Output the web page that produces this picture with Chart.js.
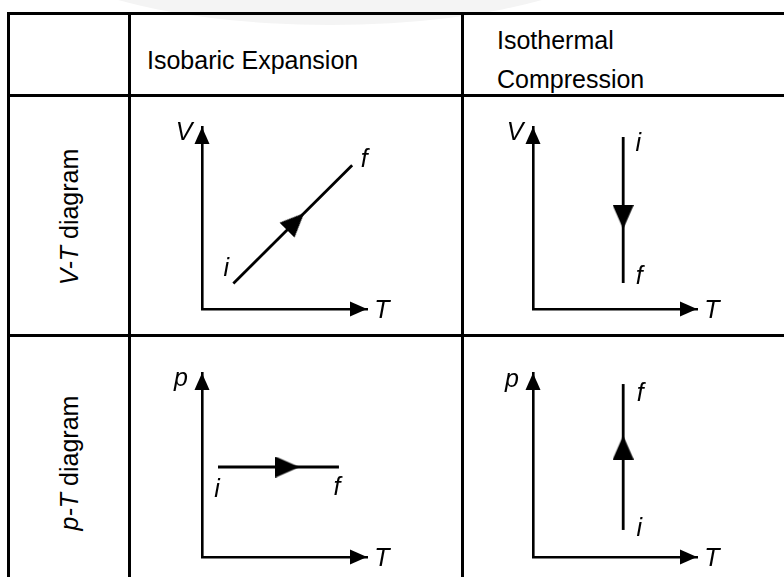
<!DOCTYPE html>
<html lang="en">
<head>
<meta charset="UTF-8">
<title>Isobaric expansion / isothermal compression</title>
<script src="https://cdn.jsdelivr.net/npm/chart.js"></script>
<style>
  html, body { margin: 0; padding: 0; background: #fff; }
  body { width: 784px; height: 577px; position: relative; overflow: hidden;
         font-family: "Liberation Sans", Arial, sans-serif; color: #000; }
  .wm { position: absolute; left: 20px; top: -160px; width: 620px; height: 185px;
        border-radius: 50%; background: #f4f4f4; }
  .hl { position: absolute; height: 3px; background: #000; }
  .vl { position: absolute; width: 3px; background: #000; }
  .head { position: absolute; font-size: 25px; line-height: 25px; white-space: nowrap; }
  .side { position: absolute; font-size: 25px; line-height: 25px; white-space: nowrap;
          transform: translate(-50%, -50%) rotate(-90deg); }
  canvas { position: absolute; }
</style>
</head>
<body>
<div class="wm"></div>

<!-- table rules -->
<div class="hl" style="left:7px; width:777px; top:12px"></div>
<div class="hl" style="left:7px; width:777px; top:94px"></div>
<div class="hl" style="left:7px; width:777px; top:334px"></div>
<div class="vl" style="left:7px; top:12px; height:565px"></div>
<div class="vl" style="left:128px; top:12px; height:565px"></div>
<div class="vl" style="left:461px; top:12px; height:565px"></div>

<div class="head" id="h1" style="left:147px; top:48px"></div>
<div class="head" id="h2a" style="left:497px; top:28px"></div>
<div class="head" id="h2b" style="left:497px; top:67px"></div>
<div class="side" id="r1" style="left:69px; top:217px"></div>
<div class="side" id="r2" style="left:69px; top:463px"></div>

<canvas id="c1"></canvas>
<canvas id="c2"></canvas>
<canvas id="c3"></canvas>
<canvas id="c4"></canvas>

<script>
// table text
const columnTitles = ['Isobaric Expansion', ['Isothermal', 'Compression']];
const rowTitles = [['V-T', ' diagram'], ['p-T', ' diagram']];
const pointNames = ['i', 'f'];

// process end points [i, f] and arrow position, axes run 0..10 (arbitrary units)
const vtIsobaricT = [1.9, 9.1];
const vtIsobaricV = [1.4, 7.9];
const vtIsobaricArrow = [5.67, 4.8];

const vtIsothermalT = [5.5, 5.5];
const vtIsothermalV = [9.45, 1.43];
const vtIsothermalArrow = [5.5, 5.05];

const ptIsobaricT = [0.97, 8.3];
const ptIsobaricP = [4.89, 4.89];
const ptIsobaricArrow = [5.18, 4.89];

const ptIsothermalT = [5.5, 5.5];
const ptIsothermalP = [1.47, 9.4];
const ptIsothermalArrow = [5.5, 5.95];

document.getElementById('h1').textContent = columnTitles[0];
document.getElementById('h2a').textContent = columnTitles[1][0];
document.getElementById('h2b').textContent = columnTitles[1][1];
rowTitles.forEach((r, k) => {
  document.getElementById('r' + (k + 1)).innerHTML = '<i>' + r[0] + '</i>' + r[1];
});

// filled triangle used as the direction marker on each process line
function arrowImage(len, wid) {
  const c = document.createElement('canvas');
  c.width = len; c.height = wid;
  const g = c.getContext('2d');
  g.fillStyle = '#000';
  g.beginPath();
  g.moveTo(0, 0); g.lineTo(len, wid / 2); g.lineTo(0, wid);
  g.closePath(); g.fill();
  return c;
}
const arrowImg = arrowImage(24, 21);

function axisHead(ctx, x, y, dx, dy) {
  const L = 17, W = 7.5;
  ctx.beginPath();
  ctx.moveTo(x, y);
  ctx.lineTo(x - dx * L - dy * W, y - dy * L + dx * W);
  ctx.lineTo(x - dx * L + dy * W, y - dy * L - dx * W);
  ctx.closePath();
  ctx.fill();
}

// arrow heads on the axes + the V/p, T, i, f letters
const decor = {
  id: 'decor',
  afterDraw(chart, args, opts) {
    const ctx = chart.ctx, a = chart.chartArea;
    const sx = chart.scales.x, sy = chart.scales.y;
    ctx.save();
    ctx.fillStyle = '#000';
    axisHead(ctx, a.left, a.top, 0, -1);
    axisHead(ctx, a.right, a.bottom, 1, 0);
    ctx.font = 'italic 25px "Liberation Sans", Arial, sans-serif';
    ctx.textAlign = 'center';
    ctx.textBaseline = 'alphabetic';
    ctx.fillText(opts.yTitle, a.left + opts.yTitleAt[0], a.top + opts.yTitleAt[1]);
    ctx.fillText('T', a.right + opts.xTitleAt[0], a.bottom + opts.xTitleAt[1]);
    chart.data.datasets[0].data.forEach((pt, k) => {
      const off = opts.nameAt[k];
      ctx.fillText(pointNames[k], sx.getPixelForValue(pt.x) + off[0], sy.getPixelForValue(pt.y) + off[1]);
    });
    ctx.restore();
  }
};

function arrowAngle(c) {
  const ch = c.chart, d = ch.data.datasets[0].data;
  const sx = ch.scales.x, sy = ch.scales.y;
  const dx = sx.getPixelForValue(d[1].x) - sx.getPixelForValue(d[0].x);
  const dy = sy.getPixelForValue(d[1].y) - sy.getPixelForValue(d[0].y);
  return Math.atan2(dy, dx) * 180 / Math.PI;
}

const axisOpts = () => ({
  type: 'linear', min: 0, max: 10,
  ticks: { display: false },
  grid: { display: false, drawTicks: false },
  border: { display: true, color: '#000', width: 2.6 }
});

const pad = { left: 70, top: 30, right: 60, bottom: 18 };

function makePanel(id, origin, tip, xs, ys, arrow, yTitle, yTitleAt, nameAt) {
  const cv = document.getElementById(id);
  cv.width = tip[0] - origin[0] + pad.left + pad.right;
  cv.height = origin[1] - tip[1] + pad.top + pad.bottom;
  cv.style.left = (origin[0] - pad.left) + 'px';
  cv.style.top = (tip[1] - pad.top) + 'px';
  return new Chart(cv, {
    type: 'scatter',
    data: {
      datasets: [{
        data: xs.map((x, k) => ({ x: x, y: ys[k] })),
        showLine: true,
        borderColor: '#000',
        borderWidth: 2.8,
        pointRadius: 0,
        clip: false
      }, {
        data: [{ x: arrow[0], y: arrow[1] }],
        showLine: false,
        pointStyle: arrowImg,
        pointRadius: 10,
        pointRotation: arrowAngle,
        clip: false
      }]
    },
    options: {
      responsive: false,
      animation: false,
      events: [],
      layout: { padding: pad, autoPadding: false },
      plugins: {
        legend: { display: false },
        tooltip: { enabled: false },
        decor: { yTitle: yTitle, yTitleAt: yTitleAt, xTitleAt: [15, 9], nameAt: nameAt }
      },
      scales: { x: axisOpts(), y: axisOpts() }
    },
    plugins: [decor]
  });
}

makePanel('c1', [202, 309], [367, 127], vtIsobaricT, vtIsobaricV, vtIsobaricArrow,
  'V', [-18, 13], [[-7, -8], [12, 2]]);
makePanel('c2', [533, 309], [697, 127], vtIsothermalT, vtIsothermalV, vtIsothermalArrow,
  'V', [-18, 13], [[15, 14], [16, 1]]);
makePanel('c3', [202, 557], [367, 373], ptIsobaricT, ptIsobaricP, ptIsobaricArrow,
  'p', [-21, 13], [[-1, 30], [-2, 28]]);
makePanel('c4', [533, 557], [697, 373], ptIsothermalT, ptIsothermalP, ptIsothermalArrow,
  'p', [-21, 14], [[16, 6], [17, 17]]);
</script>
</body>
</html>
